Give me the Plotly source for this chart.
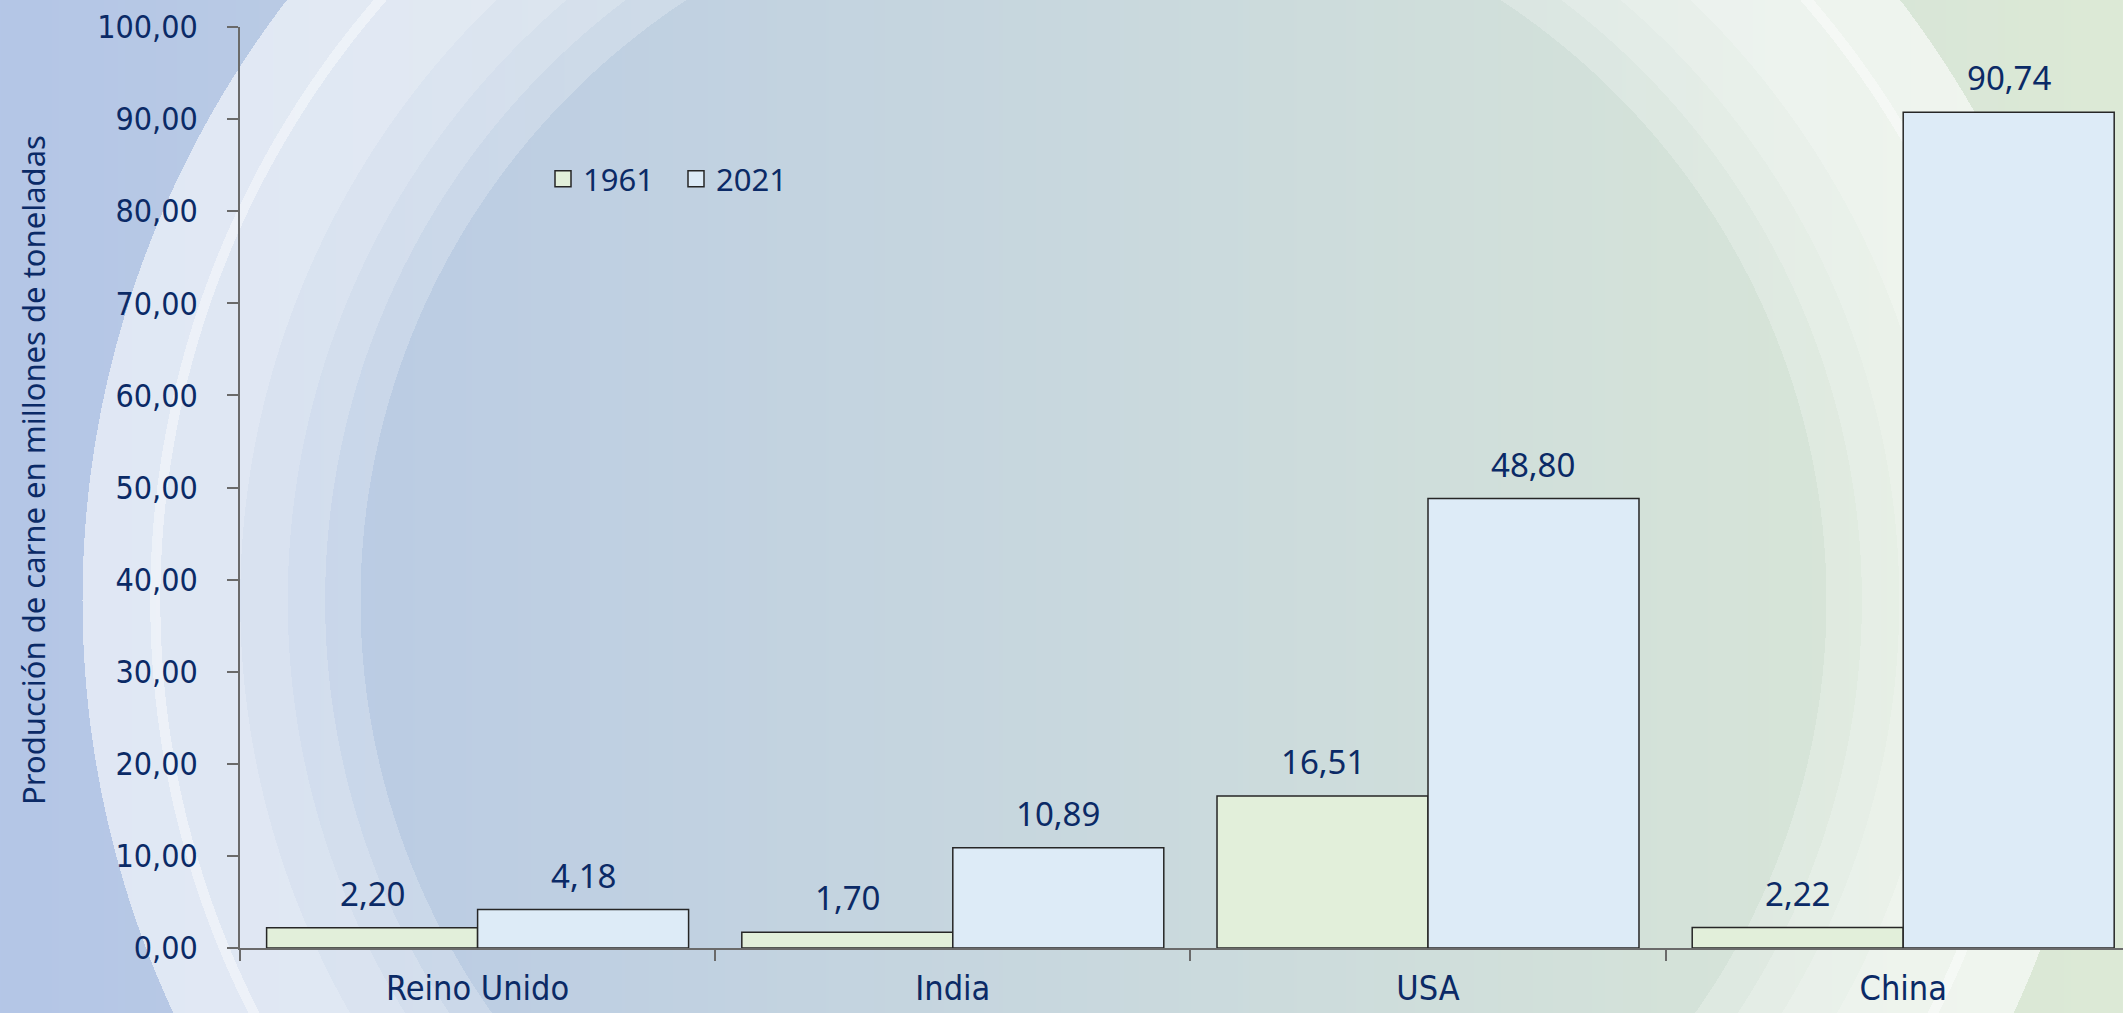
import base64
import struct
import zlib

import numpy as np
import plotly.graph_objects as go

# ---------------- data ----------------
categories = ["Reino Unido", "India", "USA", "China"]
years = ["1961", "2021"]
values_1961 = [2.20, 1.70, 16.51, 2.22]
values_2021 = [4.18, 10.89, 48.80, 90.74]
y_title = "Producción de carne en millones de toneladas"
y_ticks = [0, 10, 20, 30, 40, 50, 60, 70, 80, 90, 100]

# ---------------- style ----------------
W, H = 2123, 1013
M_L, M_R, M_T, M_B = 240, 0, 27, 65
NAVY = "#0b2a66"
AXIS = "#6a6a6a"
OUTLINE = "#262626"
FILL_1961 = "#e2efda"
FILL_2021 = "#ddebf7"
BARGAP = 0.112
TICK_FONT = "DejaVu Sans Condensed, Roboto, sans-serif"
TEXT_FONT = "Noto Sans, Open Sans, sans-serif"

plot_w = W - M_L - M_R
plot_h = H - M_T - M_B
cat_px = 475.2  # width of one category in px
x_end = plot_w / cat_px - 0.5


# ---------------- background picture (decoration) ----------------
def png_data_uri(rgb):
    h, w, _ = rgb.shape
    raw = rgb.astype(np.int16)
    filt = raw.copy()
    filt[:, 1:, :] = raw[:, 1:, :] - raw[:, :-1, :]
    filt = (filt % 256).astype(np.uint8).reshape(h, w * 3)
    data = np.hstack([np.ones((h, 1), np.uint8), filt]).tobytes()

    def chunk(tag, payload):
        c = struct.pack(">I", len(payload)) + tag + payload
        return c + struct.pack(">I", zlib.crc32(tag + payload) & 0xFFFFFFFF)

    png = (b"\x89PNG\r\n\x1a\n"
           + chunk(b"IHDR", struct.pack(">IIBBBBB", w, h, 8, 2, 0, 0, 0))
           + chunk(b"IDAT", zlib.compress(data, 9))
           + chunk(b"IEND", b""))
    return "data:image/png;base64," + base64.b64encode(png).decode()


xx = np.arange(W)[None, :].astype(float)
yy = np.arange(H)[:, None].astype(float)
t = np.broadcast_to(xx / (W - 1), (H, W))
c0 = np.array([180.0, 198.0, 231.0])
c1 = np.array([221.0, 234.0, 214.0])
base = c0 + (c1 - c0) * t[..., None]
rho = np.sqrt(((xx - 1093) / 1011.0) ** 2 + ((yy - 600) / 996.0) ** 2)
edges = np.array([0.725, 0.760, 0.797, 0.844, 0.923, 0.933, 1.0])
alphas = np.array([0.0, 0.22, 0.36, 0.46, 0.56, 0.75, 0.58, 0.0])
a = alphas[np.searchsorted(edges, rho)][..., None]
bg = np.clip(base * (1 - a) + 255.0 * a, 0, 255).astype(np.uint8)
bg_uri = png_data_uri(bg)

# ---------------- figure ----------------
fig = go.Figure()
fills = [FILL_1961, FILL_2021]
for name, series, fill in zip(years, [values_1961, values_2021], fills):
    fig.add_trace(go.Bar(name=name, x=categories, y=series, showlegend=False,
                         marker=dict(color=fill, line=dict(color=OUTLINE, width=1.5))))
# legend entries (square swatches)
for name, fill in zip(years, fills):
    fig.add_trace(go.Scatter(name=name, x=[None], y=[None], mode="markers",
                             marker=dict(symbol="square", size=16, color=fill,
                                         line=dict(color=OUTLINE, width=1.5))))

# value labels above bars
half = (1 - BARGAP) / 4
for j, series in enumerate([values_1961, values_2021]):
    off = -half if j == 0 else half
    for i, v in enumerate(series):
        fig.add_annotation(x=i + off, y=v, xref="x", yref="y",
                           text=f"{v:.2f}".replace(".", ","),
                           showarrow=False, yanchor="bottom", yshift=10,
                           font=dict(family=TEXT_FONT, size=33, color=NAVY))

# y axis title
fig.add_annotation(x=(33 - M_L) / plot_w, y=0.519, xref="paper", yref="paper",
                   text=y_title, textangle=-90, showarrow=False,
                   xanchor="center", yanchor="middle",
                   font=dict(family=TEXT_FONT, size=31, color=NAVY))

fig.add_layout_image(dict(source=bg_uri, xref="paper", yref="paper",
                          x=-M_L / plot_w, y=1 + M_T / plot_h,
                          sizex=W / plot_w, sizey=H / plot_h,
                          xanchor="left", yanchor="top",
                          sizing="stretch", layer="below"))

fig.update_layout(
    width=W, height=H,
    margin=dict(l=M_L, r=M_R, t=M_T, b=M_B, autoexpand=False),
    paper_bgcolor="#c8d8de",
    plot_bgcolor="rgba(0,0,0,0)",
    barmode="group", bargap=BARGAP, bargroupgap=0,
    separators=",.",
    showlegend=True,
    legend=dict(orientation="h", x=(543 - M_L) / plot_w, y=(948 - 179) / plot_h,
                xanchor="left", yanchor="middle", bgcolor="rgba(0,0,0,0)",
                entrywidth=88, entrywidthmode="pixels",
                font=dict(family=TEXT_FONT, size=31, color=NAVY),
                traceorder="normal"),
    xaxis=dict(range=[-0.5, x_end], showline=True, linecolor=AXIS, linewidth=1.5,
               ticks="outside", ticklen=11, tickcolor=AXIS, tickwidth=1.5,
               tickson="boundaries", showgrid=False, zeroline=False,
               ticklabelstandoff=9, automargin=False,
               tickfont=dict(family=TICK_FONT, size=34, color=NAVY),
               fixedrange=True),
    yaxis=dict(range=[0, 100], tickvals=y_ticks, tickformat=".2f",
               showline=True, linecolor=AXIS, linewidth=1.5,
               ticks="outside", ticklen=11, tickcolor=AXIS, tickwidth=1.5,
               showgrid=False, zeroline=False, ticklabelstandoff=23,
               automargin=False,
               tickfont=dict(family=TICK_FONT, size=32, color=NAVY),
               fixedrange=True),
)

fig.write_html("out.html", config={"displayModeBar": False},
               post_script="document.body.style.margin='0';document.body.style.overflow='hidden';")
